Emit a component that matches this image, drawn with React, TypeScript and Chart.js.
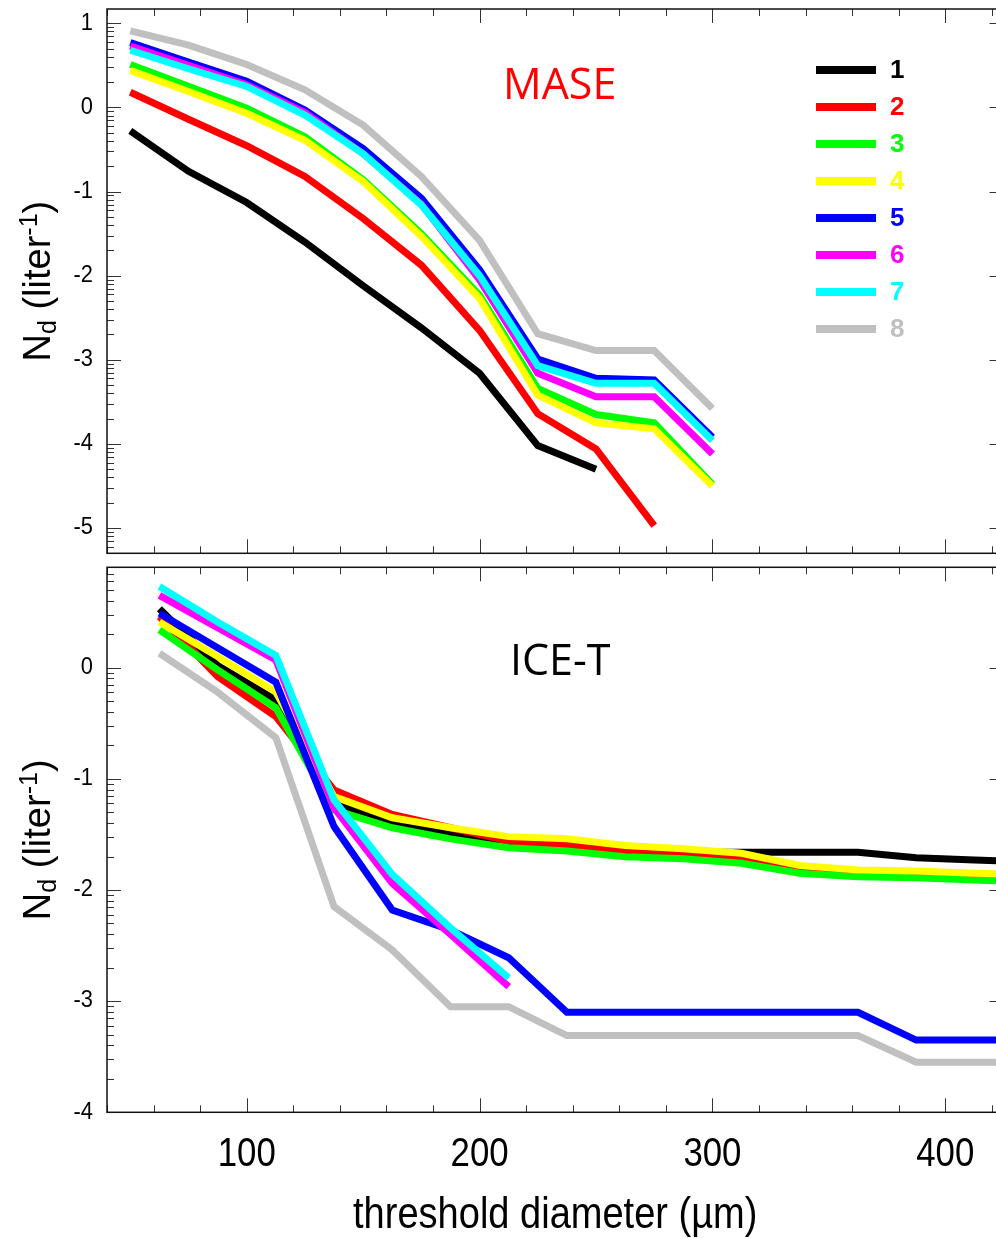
import React, { useEffect, useRef } from "react";
import { Chart, registerables } from "chart.js";

Chart.register(...registerables);

// ---------- data ----------
const SERIES_LABELS = ["1", "2", "3", "4", "5", "6", "7", "8"];
const SERIES_COLORS = ["#000000", "#ff0000", "#00ff00", "#ffff00", "#0000ff", "#ff00ff", "#00ffff", "#c0c0c0"];

// MASE panel: threshold diameter (µm) and log10 Nd (liter^-1)
const MASE_DIAMETERS = [50, 75, 100, 125, 150, 175, 200, 225, 250, 275, 300];
const MASE_S1 = [-0.28, -0.76, -1.13, -1.6, -2.12, -2.62, -3.16, -4.02, -4.3];
const MASE_S2 = [0.18, -0.14, -0.455, -0.82, -1.32, -1.875, -2.65, -3.64, -4.06, -4.97];
const MASE_S3 = [0.51, 0.25, -0.01, -0.35, -0.86, -1.5, -2.23, -3.34, -3.65, -3.75, -4.48];
const MASE_S4 = [0.44, 0.19, -0.07, -0.39, -0.88, -1.53, -2.27, -3.42, -3.75, -3.82, -4.5];
const MASE_S5 = [0.77, 0.54, 0.31, -0.03, -0.49, -1.08, -1.93, -2.99, -3.22, -3.24, -3.92];
const MASE_S6 = [0.73, 0.5, 0.27, -0.06, -0.55, -1.15, -2.05, -3.16, -3.44, -3.44, -4.12];
const MASE_S7 = [0.68, 0.46, 0.25, -0.09, -0.55, -1.16, -2.0, -3.07, -3.28, -3.28, -3.96];
const MASE_S8 = [0.91, 0.74, 0.51, 0.21, -0.21, -0.82, -1.58, -2.69, -2.89, -2.89, -3.58];

// ICE-T panel
const ICET_DIAMETERS = [62.5, 87.5, 112.5, 137.5, 162.5, 187.5, 212.5, 237.5, 262.5, 287.5, 312.5, 337.5, 362.5, 387.5, 412.5, 437.5];
const ICET_S1 = [0.53, 0.02, -0.29, -1.22, -1.4, -1.5, -1.58, -1.6, -1.65, -1.66, -1.66, -1.66, -1.66, -1.71, -1.73, -1.75];
const ICET_S2 = [0.46, -0.08, -0.44, -1.1, -1.32, -1.44, -1.56, -1.6, -1.64, -1.68, -1.71, -1.8, -1.84, -1.86, -1.87, -1.88];
const ICET_S3 = [0.34, -0.02, -0.36, -1.28, -1.44, -1.54, -1.62, -1.65, -1.7, -1.72, -1.76, -1.85, -1.88, -1.89, -1.91, -1.93];
const ICET_S4 = [0.41, 0.1, -0.22, -1.16, -1.35, -1.44, -1.52, -1.54, -1.6, -1.63, -1.67, -1.78, -1.82, -1.83, -1.85, -1.86];
const ICET_S5 = [0.49, 0.18, -0.13, -1.43, -2.18, -2.36, -2.61, -3.1, -3.1, -3.1, -3.1, -3.1, -3.1, -3.35, -3.35, -3.35];
const ICET_S6 = [0.65, 0.36, 0.07, -1.26, -1.94, -2.4, -2.87];
const ICET_S7 = [0.73, 0.41, 0.11, -1.19, -1.86, -2.34, -2.79];
const ICET_S8 = [0.13, -0.22, -0.63, -2.15, -2.54, -3.05, -3.05, -3.31, -3.31, -3.31, -3.31, -3.31, -3.31, -3.55, -3.55, -3.55];

// axes
const X_MIN = 40;
const X_MAX = 425;
const X_MAJOR_TICKS = [100, 200, 300, 400];
const X_MINOR_STEP = 20;
const MASE_Y_MIN = -5.3;
const MASE_Y_MAX = 1.17;
const MASE_Y_TICKS = [1, 0, -1, -2, -3, -4, -5];
const ICET_Y_MIN = -4;
const ICET_Y_MAX = 0.903;
const ICET_Y_TICKS = [0, -1, -2, -3, -4];

const X_TITLE = "threshold diameter (\u00b5m)";
const MASE_TITLE = "MASE";
const ICET_TITLE = "ICE-T";

// ---------- layout ----------
const CANVAS_W = 1010;
const TOP_H = 560;
const BOT_H = 678;
const SANS = '"Liberation Sans", Arial, sans-serif';
const LABEL_FONT = '"Open Sans", "Noto Sans", sans-serif';

type PanelCfg = {
  yTicks: number[];
  yMin: number;
  yMax: number;
  xLabels: boolean;
  title: string;
  titleColor: string;
  titleX: number;
  titleY: number;
  legend: boolean;
};

function fillCondensed(
  ctx: CanvasRenderingContext2D,
  text: string,
  x: number,
  y: number,
  sx: number,
  align: CanvasTextAlign
) {
  ctx.save();
  ctx.translate(x, y);
  ctx.scale(sx, 1);
  ctx.textAlign = align;
  ctx.fillText(text, 0, 0);
  ctx.restore();
}

function drawYTitle(ctx: CanvasRenderingContext2D, cx: number, cy: number) {
  const parts = [
    { t: "N", s: 38, dy: 0 },
    { t: "d", s: 25, dy: 6 },
    { t: " (liter", s: 38, dy: 0 },
    { t: "-1", s: 25, dy: -13 },
    { t: ")", s: 38, dy: 0 },
  ];
  let total = 0;
  const widths: number[] = [];
  for (const p of parts) {
    ctx.font = `${p.s}px ${SANS}`;
    const w = ctx.measureText(p.t).width;
    widths.push(w);
    total += w;
  }
  ctx.save();
  ctx.translate(cx, cy);
  ctx.rotate(-Math.PI / 2);
  ctx.fillStyle = "#000";
  ctx.textBaseline = "alphabetic";
  ctx.textAlign = "left";
  let x = -total / 2;
  parts.forEach((p, i) => {
    ctx.font = `${p.s}px ${SANS}`;
    ctx.fillText(p.t, x, p.dy);
    x += widths[i];
  });
  ctx.restore();
}

function makeDecor(cfg: PanelCfg) {
  return {
    id: "decor",
    afterDatasetsDraw(chart: any) {
      const ctx: CanvasRenderingContext2D = chart.ctx;
      const { left, right, top, bottom } = chart.chartArea;
      const xs = chart.scales.x;
      const ys = chart.scales.y;
      ctx.save();

      // inward ticks
      ctx.strokeStyle = "#333";
      ctx.lineWidth = 1;
      ctx.beginPath();
      for (let v = X_MIN; v <= X_MAX + 1e-9; v += X_MINOR_STEP) {
        const px = Math.round(xs.getPixelForValue(v)) + 0.5;
        const len = X_MAJOR_TICKS.includes(v) ? 14 : 7;
        ctx.moveTo(px, bottom);
        ctx.lineTo(px, bottom - len);
        ctx.moveTo(px, top);
        ctx.lineTo(px, top + len);
      }
      for (let n = Math.floor(cfg.yMin); n <= Math.ceil(cfg.yMax); n++) {
        for (let k = 1; k <= 9; k++) {
          const v = n + Math.log10(k);
          if (v < cfg.yMin - 1e-9 || v > cfg.yMax + 1e-9) continue;
          const py = Math.round(ys.getPixelForValue(v)) + 0.5;
          const len = k === 1 ? 14 : 7;
          ctx.moveTo(left, py);
          ctx.lineTo(left + len, py);
          ctx.moveTo(right, py);
          ctx.lineTo(right - len, py);
        }
      }
      ctx.stroke();

      // frame
      ctx.strokeStyle = "#111";
      ctx.lineWidth = 1.5;
      ctx.strokeRect(left, top, right - left, bottom - top);

      // y tick labels
      ctx.fillStyle = "#000";
      ctx.font = `23px ${SANS}`;
      ctx.textBaseline = "middle";
      for (const v of cfg.yTicks) {
        fillCondensed(ctx, String(v), 93, ys.getPixelForValue(v), 0.95, "right");
      }

      // y title
      drawYTitle(ctx, 50, (top + bottom) / 2);

      // x labels
      if (cfg.xLabels) {
        ctx.font = `40px ${SANS}`;
        ctx.textBaseline = "middle";
        for (const v of X_MAJOR_TICKS) {
          fillCondensed(ctx, String(v), xs.getPixelForValue(v), bottom + 43, 0.87, "center");
        }
        ctx.font = `45px ${SANS}`;
        fillCondensed(ctx, X_TITLE, (left + right) / 2, bottom + 103, 0.845, "center");
      }

      // panel title
      ctx.font = `43px ${LABEL_FONT}`;
      ctx.fillStyle = cfg.titleColor;
      ctx.textAlign = "left";
      ctx.textBaseline = "alphabetic";
      ctx.fillText(cfg.title, cfg.titleX, cfg.titleY);

      // legend
      if (cfg.legend) {
        chart.data.datasets.forEach((ds: any, i: number) => {
          const y = 70 + i * 37;
          ctx.strokeStyle = ds.borderColor;
          ctx.lineWidth = 8;
          ctx.beginPath();
          ctx.moveTo(816, y);
          ctx.lineTo(876, y);
          ctx.stroke();
          ctx.fillStyle = ds.borderColor;
          ctx.font = `bold 26px ${SANS}`;
          ctx.textAlign = "left";
          ctx.textBaseline = "middle";
          ctx.fillText(ds.label, 890, y + 1);
        });
      }
      ctx.restore();
    },
  };
}

function buildDatasets(xs: number[], series: number[][]) {
  return series.map((s, i) => ({
    label: SERIES_LABELS[i],
    data: s.map((y, j) => ({ x: xs[j], y })),
    borderColor: SERIES_COLORS[i],
    backgroundColor: SERIES_COLORS[i],
    borderWidth: 7,
    pointRadius: 0,
    pointHoverRadius: 0,
    tension: 0,
    fill: false,
    clip: 0,
    borderJoinStyle: "miter" as const,
    borderCapStyle: "butt" as const,
    order: SERIES_LABELS.length - i,
  }));
}

function makeChart(
  canvas: HTMLCanvasElement,
  datasets: any[],
  yMin: number,
  yMax: number,
  padding: { left: number; right: number; top: number; bottom: number },
  cfg: PanelCfg
) {
  return new Chart(canvas, {
    type: "line",
    data: { datasets },
    options: {
      animation: false,
      responsive: false,
      maintainAspectRatio: false,
      devicePixelRatio: 1,
      layout: { padding },
      plugins: { legend: { display: false }, tooltip: { enabled: false }, title: { display: false } },
      events: [],
      scales: {
        x: { type: "linear", min: X_MIN, max: X_MAX, display: false },
        y: { type: "linear", min: yMin, max: yMax, display: false },
      },
    },
    plugins: [makeDecor(cfg)],
  });
}

export default function App() {
  const topRef = useRef<HTMLCanvasElement | null>(null);
  const botRef = useRef<HTMLCanvasElement | null>(null);

  useEffect(() => {
    const topChart = makeChart(
      topRef.current!,
      buildDatasets(MASE_DIAMETERS, [MASE_S1, MASE_S2, MASE_S3, MASE_S4, MASE_S5, MASE_S6, MASE_S7, MASE_S8]),
      MASE_Y_MIN,
      MASE_Y_MAX,
      { left: 107, right: CANVAS_W - 1003.5, top: 9, bottom: TOP_H - 553.3 },
      {
        yTicks: MASE_Y_TICKS,
        yMin: MASE_Y_MIN,
        yMax: MASE_Y_MAX,
        xLabels: false,
        title: MASE_TITLE,
        titleColor: "#ff0000",
        titleX: 503,
        titleY: 99,
        legend: true,
      }
    );
    const botChart = makeChart(
      botRef.current!,
      buildDatasets(ICET_DIAMETERS, [ICET_S1, ICET_S2, ICET_S3, ICET_S4, ICET_S5, ICET_S6, ICET_S7, ICET_S8]),
      ICET_Y_MIN,
      ICET_Y_MAX,
      { left: 107, right: CANVAS_W - 1003.5, top: 7.3, bottom: BOT_H - 552.3 },
      {
        yTicks: ICET_Y_TICKS,
        yMin: ICET_Y_MIN,
        yMax: ICET_Y_MAX,
        xLabels: true,
        title: ICET_TITLE,
        titleColor: "#000000",
        titleX: 510,
        titleY: 675 - 560,
        legend: false,
      }
    );
    return () => {
      topChart.destroy();
      botChart.destroy();
    };
  }, []);

  return (
    <div
      style={{
        position: "absolute",
        left: 0,
        top: 0,
        width: 996,
        height: 1238,
        overflow: "hidden",
        background: "#ffffff",
      }}
    >
      <canvas
        ref={topRef}
        width={CANVAS_W}
        height={TOP_H}
        style={{ position: "absolute", left: 0, top: 0, width: CANVAS_W, height: TOP_H }}
      />
      <canvas
        ref={botRef}
        width={CANVAS_W}
        height={BOT_H}
        style={{ position: "absolute", left: 0, top: TOP_H, width: CANVAS_W, height: BOT_H }}
      />
    </div>
  );
}
